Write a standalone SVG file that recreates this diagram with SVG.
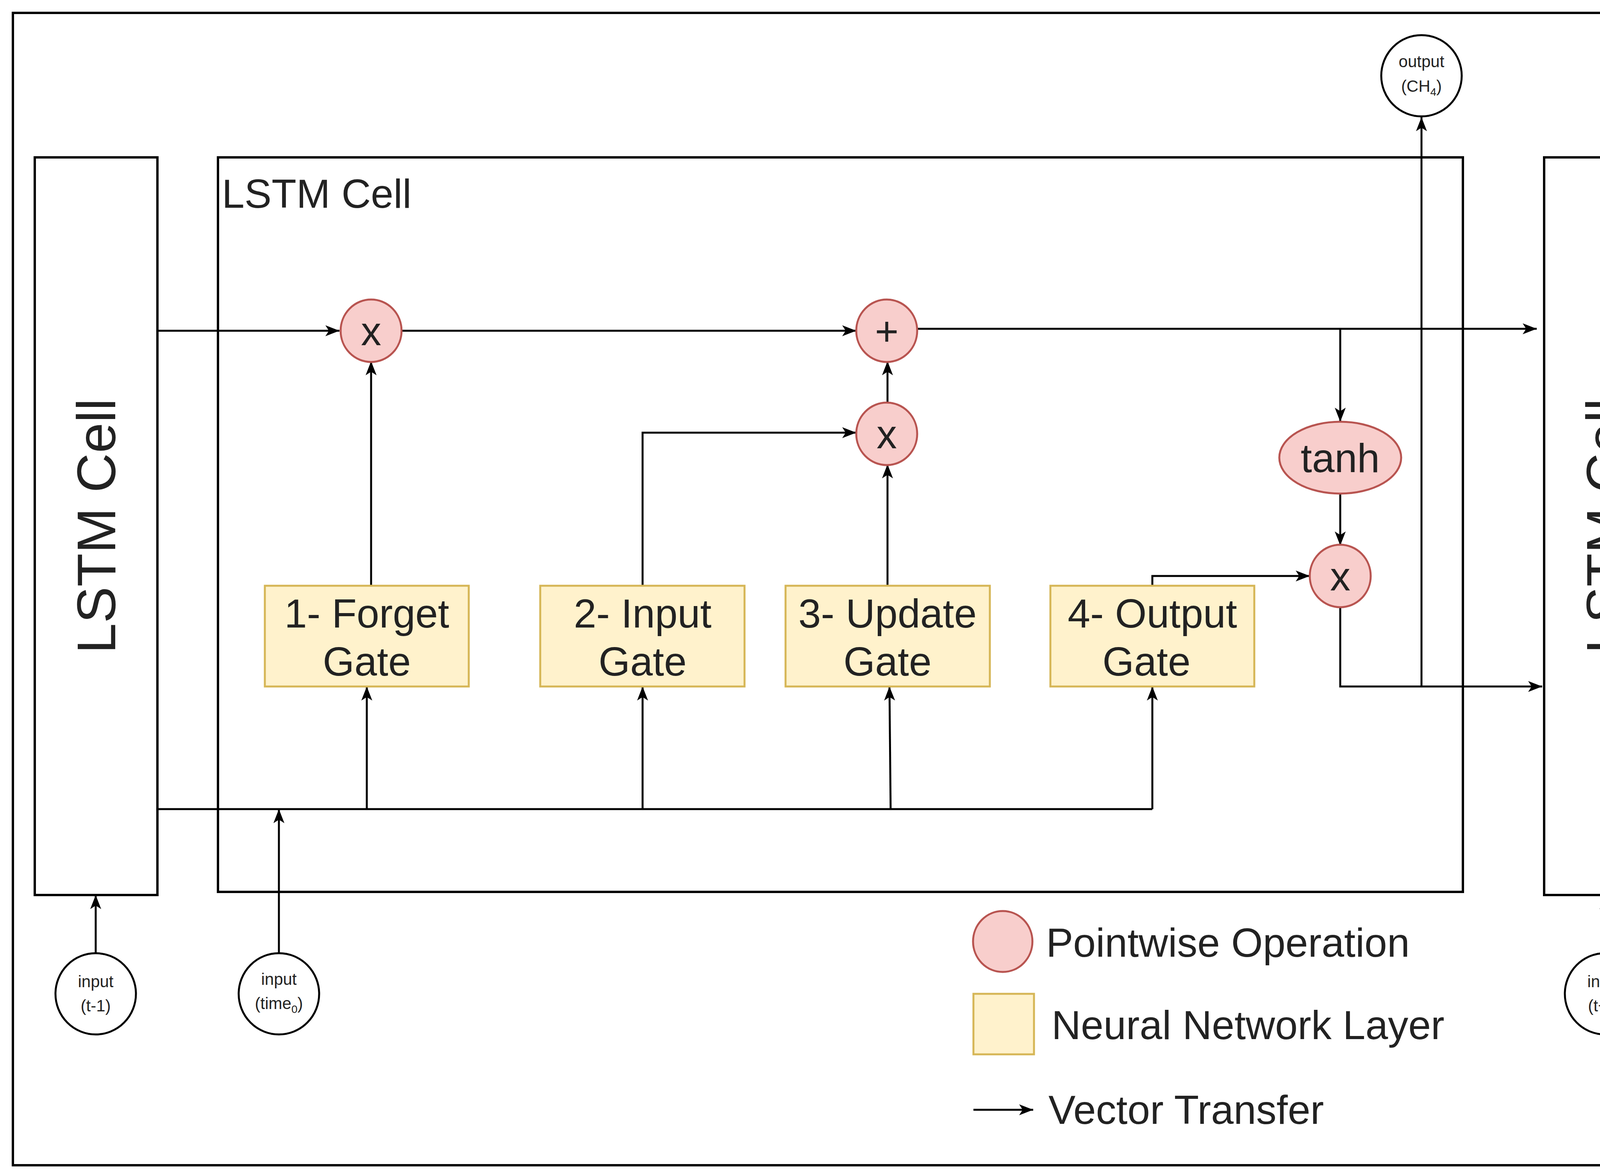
<svg xmlns="http://www.w3.org/2000/svg" width="4356" height="3009" viewBox="0 0 4356 3009">
<style>
.t{font-family:"Liberation Sans",Arial,sans-serif;fill:#222}
.big{font-size:104px}
.sm{font-size:42px}
.pw{fill:#f8cecc;stroke:#b85450;stroke-width:5}
.nn{fill:#fff2cc;stroke:#d6b656;stroke-width:5}
.box{fill:none;stroke:#000;stroke-width:6}
.io{fill:#fff;stroke:#000;stroke-width:5}
.c{fill:none;stroke:#000;stroke-width:5;marker-end:url(#a)}
.l{fill:none;stroke:#000;stroke-width:5}
</style>
<defs>
<marker id="a" markerUnits="userSpaceOnUse" markerWidth="40" markerHeight="32" refX="36" refY="16" orient="auto">
<path d="M0,2 L36,16 L0,30 L9,16 Z" fill="#000"/>
</marker>
</defs>
<rect x="0" y="0" width="4356" height="3009" fill="#fff"/>
<rect class="box" x="33" y="33" width="4290" height="2951"/>
<g id="lstm-left"><rect class="box" x="89" y="403" width="314" height="1889"/>
<text class="t" font-size="140" text-anchor="middle" transform="translate(295,1347) rotate(-90)">LSTM Cell</text></g>
<g id="lstm-main"><rect class="box" x="558" y="403" width="3187" height="1881"/>
<text class="t big" x="568" y="532">LSTM Cell</text></g>
<g id="lstm-right"><rect class="box" x="3953" y="403" width="314" height="1889"/>
<text class="t" font-size="140" text-anchor="middle" transform="translate(4159,1347) rotate(-90)">LSTM Cell</text></g>
<g id="connectors">
<path class="c" d="M403,847 H869"/>
<path class="c" d="M1025,847 H2192"/>
<path class="c" d="M2348,842 H3934"/>
<path class="c" d="M3431,842 V1080"/>
<path class="c" d="M3431,1264 V1397"/>
<path class="c" d="M3431,1553 V1758 H3948"/>
<path class="c" d="M3639,1758 V300"/>
<path class="c" d="M950,1500 V925"/>
<path class="c" d="M1645,1500 V1108 H2192"/>
<path class="c" d="M2272,1500 V1189"/>
<path class="c" d="M2272,1033 V925"/>
<path class="c" d="M2950,1500 V1475 H3353"/>
<path class="l" d="M403,2072 H2950"/>
<path class="c" d="M939,2072 V1758"/>
<path class="c" d="M1645,2072 V1758"/>
<path class="c" d="M2280,2072 L2277,1758"/>
<path class="c" d="M2950,2072 V1758"/>
<path class="c" d="M714,2442 V2072"/>
<path class="c" d="M245,2442 V2292"/>
<path class="c" d="M4109,2442 V2292"/>
</g>
<g id="mul1"><ellipse class="pw" cx="950" cy="847" rx="78" ry="80"/><text class="t big" x="950" y="884" text-anchor="middle">x</text></g>
<g id="plus"><ellipse class="pw" cx="2270" cy="847" rx="78" ry="80"/><text class="t big" x="2270" y="884" text-anchor="middle">+</text></g>
<g id="mul2"><ellipse class="pw" cx="2270" cy="1111" rx="78" ry="80"/><text class="t big" x="2270" y="1148" text-anchor="middle">x</text></g>
<g id="tanh"><ellipse class="pw" cx="3431" cy="1172" rx="156" ry="92"/><text class="t big" x="3431" y="1209" text-anchor="middle">tanh</text></g>
<g id="mul3"><ellipse class="pw" cx="3431" cy="1475" rx="78" ry="80"/><text class="t big" x="3431" y="1512" text-anchor="middle">x</text></g>
<g id="forget"><rect class="nn" x="678" y="1500" width="522" height="258"/><text class="t big" text-anchor="middle"><tspan x="939" y="1607">1- Forget</tspan><tspan x="939" y="1730">Gate</tspan></text></g>
<g id="input"><rect class="nn" x="1383" y="1500" width="523" height="258"/><text class="t big" text-anchor="middle"><tspan x="1645" y="1607">2- Input</tspan><tspan x="1645" y="1730">Gate</tspan></text></g>
<g id="update"><rect class="nn" x="2011" y="1500" width="523" height="258"/><text class="t big" text-anchor="middle"><tspan x="2272" y="1607">3- Update</tspan><tspan x="2272" y="1730">Gate</tspan></text></g>
<g id="output-gate"><rect class="nn" x="2689" y="1500" width="522" height="258"/><text class="t big" text-anchor="middle"><tspan x="2950" y="1607">4- Output</tspan><tspan x="2935" y="1730">Gate</tspan></text></g>
<g id="out-ch4"><ellipse class="io" cx="3639" cy="194" rx="103" ry="104"/><text class="t sm" text-anchor="middle"><tspan x="3639" y="172">output</tspan><tspan x="3639" y="235">(CH<tspan font-size="28" dy="10">4</tspan><tspan dy="-10">)</tspan></tspan></text></g>
<g id="in-t-1"><ellipse class="io" cx="245" cy="2545" rx="103" ry="104"/><text class="t sm" text-anchor="middle"><tspan x="245" y="2528">input</tspan><tspan x="245" y="2590">(t-1)</tspan></text></g>
<g id="in-time0"><ellipse class="io" cx="714" cy="2545" rx="103" ry="104"/><text class="t sm" text-anchor="middle"><tspan x="714" y="2522">input</tspan><tspan x="714" y="2584">(time<tspan font-size="28" dy="10">0</tspan><tspan dy="-10">)</tspan></tspan></text></g>
<g id="in-t1"><ellipse class="io" cx="4109" cy="2545" rx="103" ry="104"/><text class="t sm" text-anchor="middle"><tspan x="4109" y="2528">input</tspan><tspan x="4109" y="2590">(t+1)</tspan></text></g>
<g id="legend">
<ellipse class="pw" cx="2567" cy="2411" rx="76" ry="78"/>
<text class="t big" x="2678" y="2450">Pointwise Operation</text>
<rect class="nn" x="2492" y="2545" width="155" height="155"/>
<text class="t big" x="2692" y="2661">Neural Network Layer</text>
<path class="c" d="M2492,2842 H2645"/>
<text class="t big" x="2684" y="2878">Vector Transfer</text>
</g>
</svg>
